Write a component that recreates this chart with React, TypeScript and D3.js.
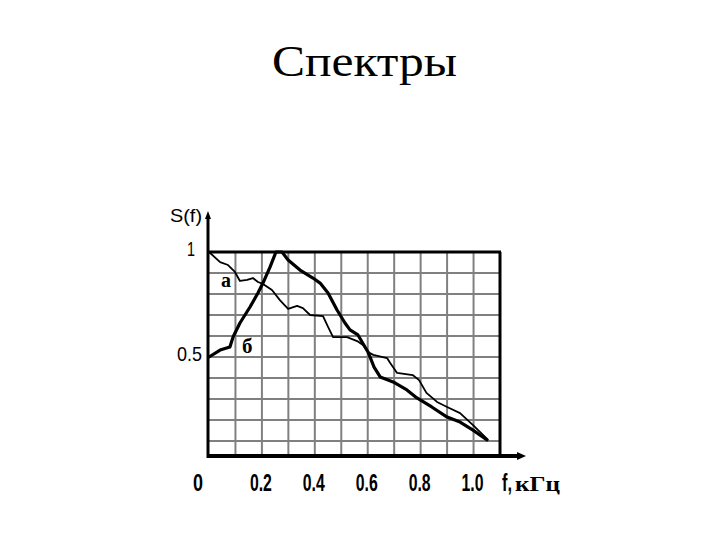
import React from "react";
import * as d3 from "d3";

// ---- data ----
const title = "Спектры";
const yAxisTitle = "S(f)";
const xAxisUnitA = "f,";
const xAxisUnitB = "кГц";
const xTicks = [0.2, 0.4, 0.6, 0.8, 1.0];
const xTickLabels = ["0.2", "0.4", "0.6", "0.8", "1.0"];
const yTicks = [0.5, 1];
const yTickLabels = ["0.5", "1"];
const gridX = [0.1, 0.2, 0.3, 0.4, 0.5, 0.6, 0.7, 0.8, 0.9, 1.0];
const gridY = [0.1, 0.2, 0.3, 0.4, 0.5, 0.6, 0.7, 0.8, 0.9];

// curve "а" (thin)
const curveA_f = [0, 0.042, 0.072, 0.098, 0.117, 0.144, 0.166, 0.185, 0.204, 0.238, 0.268, 0.299, 0.333, 0.355, 0.382, 0.431, 0.45, 0.469, 0.522, 0.56, 0.582, 0.601, 0.621, 0.673, 0.685, 0.711, 0.77, 0.794, 0.822, 0.862, 0.9, 0.949, 0.998, 1.055];
const curveA_s = [1.0, 0.952, 0.938, 0.905, 0.862, 0.867, 0.876, 0.857, 0.848, 0.819, 0.771, 0.729, 0.743, 0.733, 0.7, 0.695, 0.643, 0.595, 0.595, 0.576, 0.557, 0.524, 0.51, 0.495, 0.471, 0.424, 0.414, 0.39, 0.329, 0.286, 0.262, 0.233, 0.176, 0.105];

// curve "б" (thick)
const curveB_f = [0, 0.042, 0.079, 0.091, 0.117, 0.155, 0.185, 0.204, 0.231, 0.253, 0.276, 0.299, 0.344, 0.393, 0.42, 0.45, 0.484, 0.514, 0.533, 0.563, 0.601, 0.624, 0.647, 0.696, 0.748, 0.786, 0.842, 0.9, 0.949, 0.998, 1.051];
const curveB_s = [0.5, 0.533, 0.548, 0.595, 0.662, 0.738, 0.805, 0.852, 0.929, 1.0, 1.0, 0.962, 0.914, 0.876, 0.852, 0.805, 0.724, 0.662, 0.629, 0.605, 0.524, 0.452, 0.405, 0.381, 0.343, 0.305, 0.262, 0.214, 0.19, 0.152, 0.105];

const curveLabels = ["а", "б"];

const W = 720;
const H = 540;

export default function App() {
  const x = d3.scaleLinear().domain([0, 1.1]).range([209, 500]);
  const y = d3.scaleLinear().domain([0, 1]).range([462, 252]);
  const axisY = 456;
  const line = d3
    .line<[number, number]>()
    .x((d) => x(d[0]))
    .y((d) => y(d[1]))
    .curve(d3.curveLinear);
  const dataA: [number, number][] = curveA_f.map((f, i) => [f, curveA_s[i]]);
  const dataB: [number, number][] = curveB_f.map((f, i) => [f, curveB_s[i]]);

  const narrow = "'Liberation Sans Narrow', 'Liberation Sans', 'DejaVu Sans', sans-serif";
  const serif = "'Liberation Serif', 'DejaVu Serif', serif";
  const grid = "#808080";
  const tickW = (s: string) => (s.length === 1 ? 10 : 22);

  return (
    <svg width={W} height={H} style={{ position: "absolute", left: 0, top: 0, background: "#fff" }}>
      <rect x={0} y={0} width={W} height={H} fill="#fff" />
      <text x={272} y={76} fontFamily={serif} fontSize={45} fill="#000" textLength={185} lengthAdjust="spacingAndGlyphs">
        {title}
      </text>

      {/* grid */}
      {gridX.map((v) => (
        <line key={"gx" + v} x1={x(v)} x2={x(v)} y1={y(1)} y2={axisY} stroke={grid} strokeWidth={2} />
      ))}
      {gridY.map((v) => (
        <line key={"gy" + v} x1={x(0)} x2={x(1.1)} y1={y(v)} y2={y(v)} stroke={grid} strokeWidth={2} />
      ))}
      {/* top + right border */}
      <line x1={x(0)} x2={x(1.1) + 1} y1={y(1)} y2={y(1)} stroke="#000" strokeWidth={3} />
      <line x1={x(1.1)} x2={x(1.1)} y1={y(1)} y2={axisY} stroke="#000" strokeWidth={3} />

      {/* axes */}
      <line x1={x(0) - 1} x2={x(0) - 1} y1={axisY + 2} y2={216} stroke="#000" strokeWidth={3} />
      <path d={`M${x(0) - 1},211 L${x(0) - 4},219 L${x(0) + 2},219 Z`} fill="#000" />
      <line x1={x(0) - 2} x2={520} y1={axisY} y2={axisY} stroke="#000" strokeWidth={4} />
      <path d={`M526,${axisY} L517,${axisY - 4} L517,${axisY + 4} Z`} fill="#000" />

      {/* curves */}
      <path d={line(dataA) || ""} fill="none" stroke="#000" strokeWidth={1.8} strokeLinejoin="round" />
      <path d={line(dataB) || ""} fill="none" stroke="#000" strokeWidth={3.2} strokeLinejoin="round" strokeLinecap="round" />

      {/* curve labels */}
      <text x={221} y={287} fontFamily={serif} fontWeight="bold" fontSize={20} fill="#000">
        {curveLabels[0]}
      </text>
      <text x={242} y={353} fontFamily={serif} fontWeight="bold" fontSize={21} fill="#000">
        {curveLabels[1]}
      </text>

      {/* x tick labels */}
      <text x={193} y={491} fontFamily={narrow} fontWeight="bold" fontSize={23} fill="#000" textLength={10} lengthAdjust="spacingAndGlyphs">
        0
      </text>
      {xTicks.map((v, i) => (
        <text
          key={"xt" + v}
          x={x(v) - 12}
          y={491}
          fontFamily={narrow}
          fontWeight="bold"
          fontSize={23}
          fill="#000"
          textLength={tickW(xTickLabels[i])}
          lengthAdjust="spacingAndGlyphs"
        >
          {xTickLabels[i]}
        </text>
      ))}
      <text x={502} y={491} fontFamily={narrow} fontWeight="bold" fontSize={23} fill="#000" textLength={10} lengthAdjust="spacingAndGlyphs">
        {xAxisUnitA}
      </text>
      <text x={515} y={491} fontFamily={serif} fontWeight="bold" fontSize={21} fill="#000" textLength={45} lengthAdjust="spacingAndGlyphs">
        {xAxisUnitB}
      </text>

      {/* y tick labels */}
      {yTicks.map((v, i) => (
        <text
          key={"yt" + v}
          x={v === 1 ? 187 : 177}
          y={y(v) + 4}
          fontFamily={narrow}
          fontSize={21}
          fill="#000"
          textLength={v === 1 ? 8 : 25}
          lengthAdjust="spacingAndGlyphs"
        >
          {yTickLabels[i]}
        </text>
      ))}
      <text x={170} y={222} fontFamily={narrow} fontSize={19} fill="#000" textLength={32} lengthAdjust="spacingAndGlyphs">
        {yAxisTitle}
      </text>
    </svg>
  );
}
